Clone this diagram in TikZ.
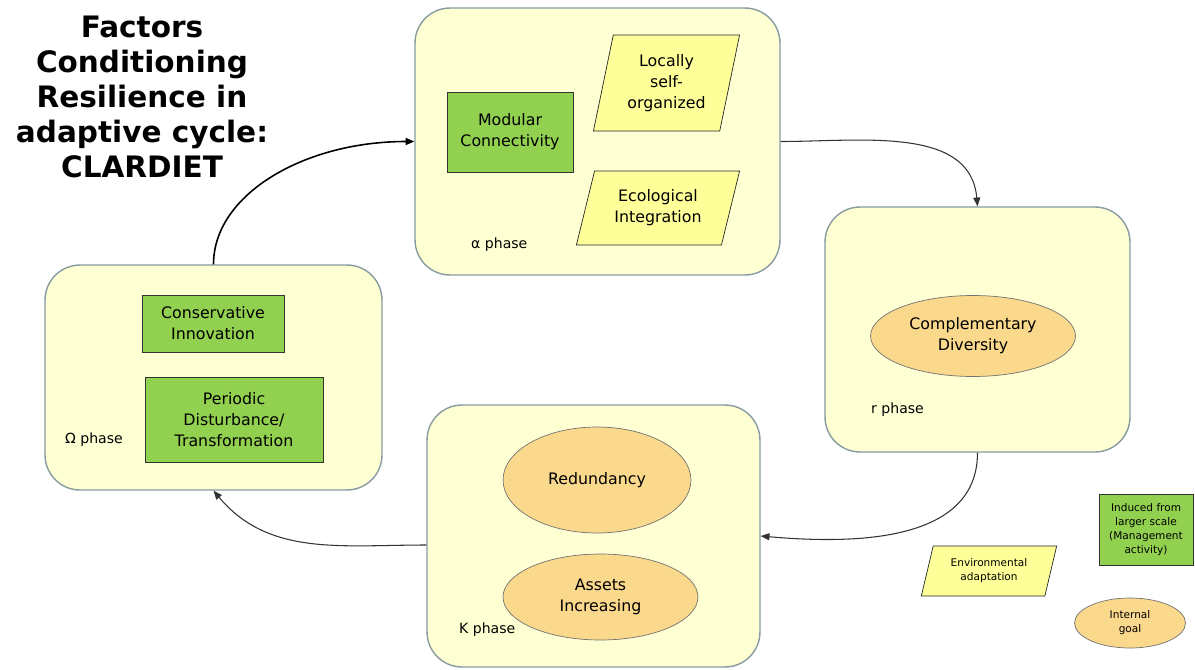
\documentclass[tikz,border=0pt]{standalone}
\usepackage{fontspec}
\setmainfont{DejaVu Sans}
\usepackage{tikz}
\usetikzlibrary{arrows.meta,shapes.geometric}
\definecolor{phasefill}{RGB}{255,255,212}
\definecolor{phaseline}{RGB}{135,155,160}
\definecolor{greenbox}{RGB}{146,208,80}
\definecolor{yellowbox}{RGB}{255,255,153}
\definecolor{goalfill}{RGB}{250,216,140}

\begin{document}
\begin{tikzpicture}[x=0.02cm, y=-0.02cm, >={Triangle[length=5pt,width=4pt]},
             every node/.style={font=\fontsize{9}{12}\selectfont, align=center},
             phase/.style={rectangle, draw=phaseline, fill=phasefill, thick,
                           rounded corners=0.7cm},
             induced/.style={rectangle, draw=black!80, fill=greenbox, inner sep=1pt},
             envir/.style={trapezium, draw=black!85, fill=yellowbox, inner sep=1pt,
                           trapezium stretches=true},
             goal/.style={ellipse, draw=black!55, fill=goalfill, inner sep=1pt},
             tag/.style={anchor=west, font=\fontsize{8}{10}\selectfont},
             flow/.style={->, draw=black!80, line width=0.6pt}]
\useasboundingbox (0,0) rectangle (1195,669);

%% title
\node[font=\fontsize{16.8}{20}\selectfont\bfseries] (title) at (142,97)
  {Factors\\Conditioning\\Resilience in\\adaptive cycle:\\CLARDIET};

%% the four phases of the cycle
\node[phase, minimum width=7.3cm,  minimum height=5.34cm] (alpha) at (597.5,141.5) {};
\node[phase, minimum width=6.1cm,  minimum height=4.9cm]  (rbox)  at (977.5,329.5) {};
\node[phase, minimum width=6.66cm, minimum height=5.24cm] (kbox)  at (593.5,536)   {};
\node[phase, minimum width=6.74cm, minimum height=4.5cm]  (omega) at (213.5,377.5) {};

%% alpha phase
\node[induced, minimum width=2.52cm, minimum height=1.6cm] (modular) at (510,132)
  {Modular\\Connectivity};
\node[envir, trapezium left angle=76, trapezium right angle=104,
      minimum width=2.94cm, minimum height=1.92cm] (locally) at (666.5,83)
  {Locally\\self-\\organized};
\node[envir, trapezium left angle=72, trapezium right angle=108,
      minimum width=3.28cm, minimum height=1.48cm] (ecol) at (658,208)
  {Ecological\\Integration};
\node[tag] (alphatag) at (465,245) {α phase};

%% r phase
\node[goal, minimum width=4.1cm, minimum height=1.62cm] (compl) at (973,336)
  {Complementary\\Diversity};
\node[tag] (rtag) at (865,410) {r phase};

%% K phase
\node[goal, minimum width=3.76cm, minimum height=2.12cm] (redund) at (597,480)
  {Redundancy};
\node[goal, minimum width=3.9cm, minimum height=1.72cm] (assets) at (600.5,597)
  {Assets\\Increasing};
\node[tag] (ktag) at (453,630) {K phase};

%% Omega phase
\node[induced, minimum width=2.84cm, minimum height=1.14cm] (conserv) at (213,323.5)
  {Conservative\\Innovation};
\node[induced, minimum width=3.56cm, minimum height=1.7cm] (period) at (234,419.5)
  {Periodic\\Disturbance/\\Transformation};
\node[tag] (omegatag) at (59,440) {Ω phase};

%% cycle arrows
\draw[flow, draw=black, line width=0.9pt] (omega.north)
  .. controls +(0,-70) and +(-110,0) .. (alpha.west);
\draw[flow] (alpha.east) to[out=0, in=95] (rbox.north);
\draw[flow] (rbox.south) to[out=-90, in=-5] (kbox.east);
\draw[flow] ([yshift=-0.18cm]kbox.west) to[out=180, in=-50] (omega.south);

%% legend
\node[induced, font=\fontsize{6}{8}\selectfont, minimum width=1.88cm, minimum height=1.42cm]
  (leginduced) at (1146,529.5) {Induced from\\larger scale\\(Management\\activity)};
\node[envir, font=\fontsize{6}{8}\selectfont, trapezium left angle=73, trapezium right angle=107,
      minimum width=2.72cm, minimum height=1cm] (legenvir) at (989,571)
  {Environmental\\adaptation};
\node[goal, font=\fontsize{6}{8}\selectfont, minimum width=2.22cm, minimum height=1cm]
  (leggoal) at (1130,623) {Internal\\goal};
\end{tikzpicture}
\end{document}
